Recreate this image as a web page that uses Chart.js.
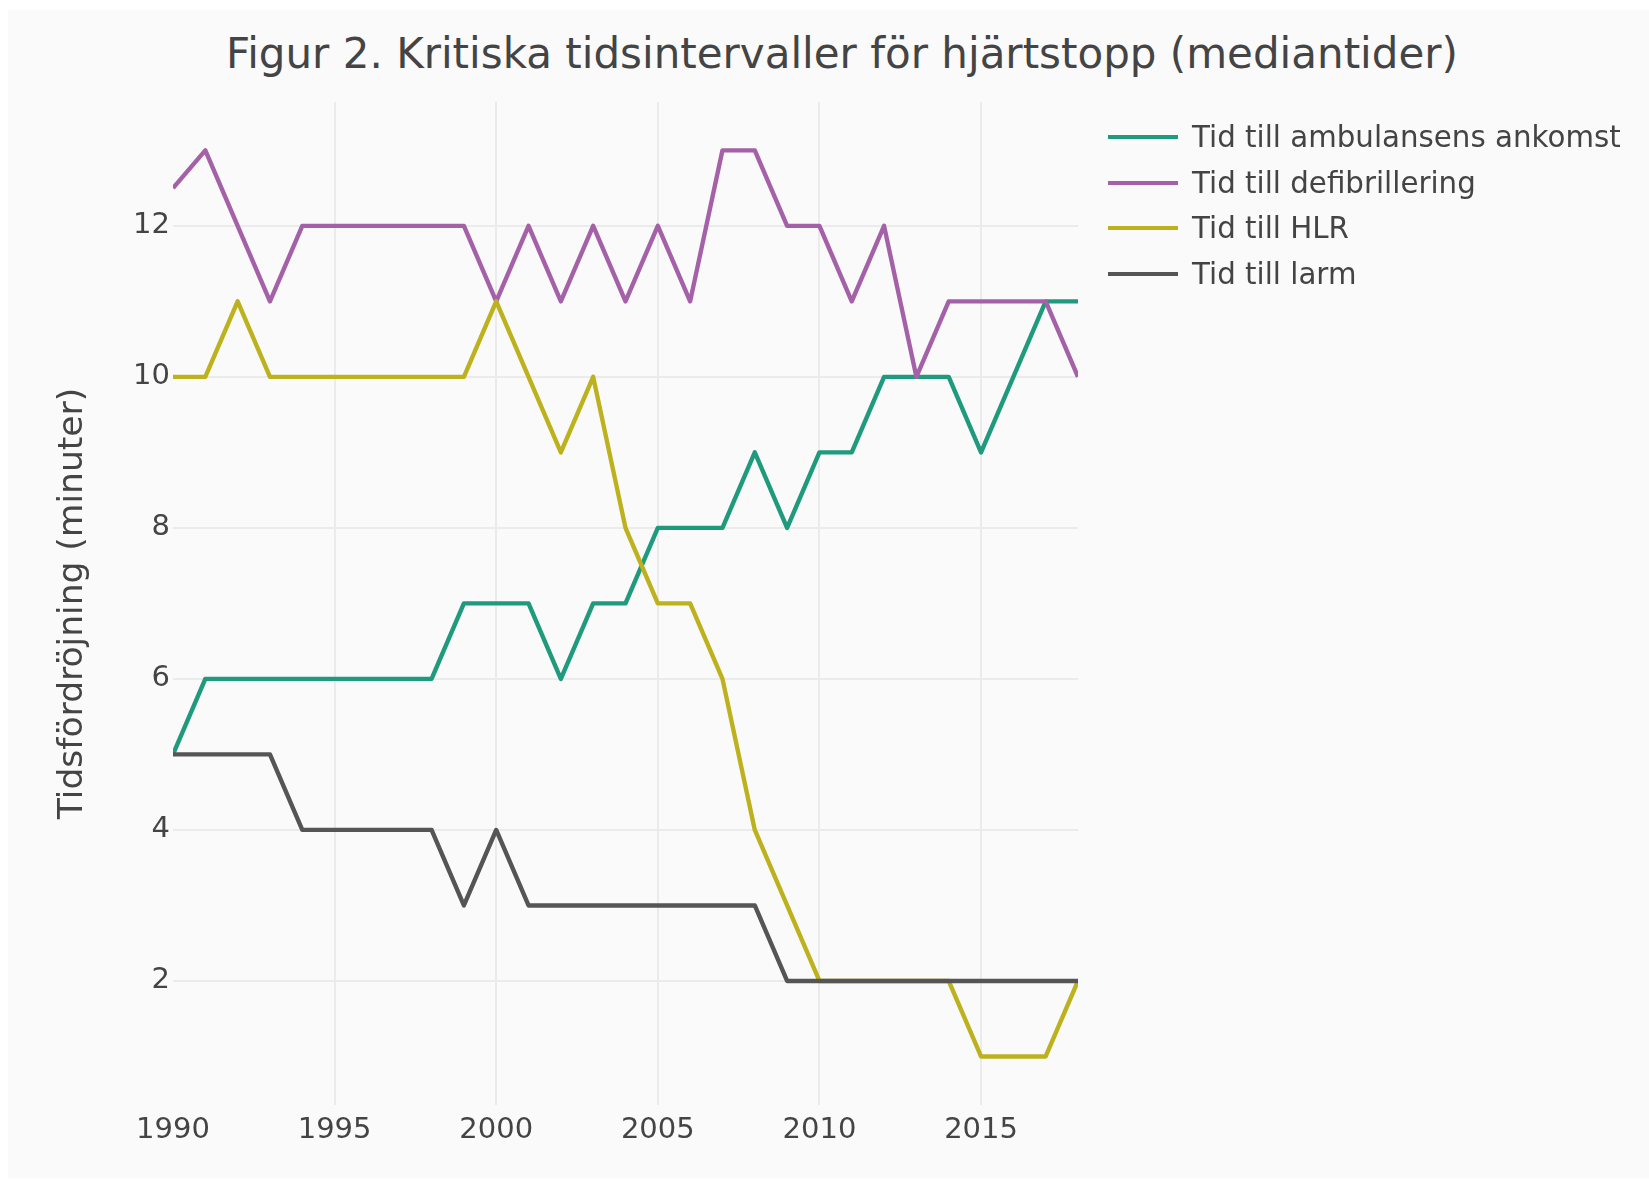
<!DOCTYPE html>
<html>
<head>
<meta charset="utf-8">
<script src="https://cdn.jsdelivr.net/npm/chart.js@4.4.1/dist/chart.umd.min.js"></script>
<style>
  html, body { margin: 0; padding: 0; background: #ffffff; overflow: hidden; }
  body { width: 1649px; height: 1179px; position: relative; font-family: "DejaVu Sans", Verdana, sans-serif; }
  #paper { position: absolute; left: 8px; top: 10px; width: 1641px; height: 1168px; background: #fafafa; }
  #title { position: absolute; left: 0; top: 29px; width: 1684px; text-align: center; font-size: 42px; line-height: 49px; color: #444; white-space: nowrap; }
  #wrap { position: absolute; left: 0; top: 0; width: 1649px; height: 1179px; }
  #legend { position: absolute; left: 0; top: 0; }
  .li { position: absolute; height: 46px; }
  .li .sw { position: absolute; left: 1108px; width: 70px; height: 4px; }
  .li .tx { position: absolute; left: 1192px; font-size: 29.3px; line-height: 34px; color: #444; white-space: nowrap; }
</style>
</head>
<body>
<div id="paper"></div>
<div id="title">Figur 2. Kritiska tidsintervaller för hjärtstopp (mediantider)</div>
<div id="wrap"><canvas id="c" width="1649" height="1179"></canvas></div>
<div id="legend"></div>
<script>
// ---- data ----
const years = [1990, 1991, 1992, 1993, 1994, 1995, 1996, 1997, 1998, 1999,
               2000, 2001, 2002, 2003, 2004, 2005, 2006, 2007, 2008, 2009,
               2010, 2011, 2012, 2013, 2014, 2015, 2016, 2017, 2018];
const ambulans = [5, 6, 6, 6, 6, 6, 6, 6, 6, 7,
                  7, 7, 6, 7, 7, 8, 8, 8, 9, 8,
                  9, 9, 10, 10, 10, 9, 10, 11, 11];
const defibrillering = [12.5, 13, 12, 11, 12, 12, 12, 12, 12, 12,
                        11, 12, 11, 12, 11, 12, 11, 13, 13, 12,
                        12, 11, 12, 10, 11, 11, 11, 11, 10];
const hlr = [10, 10, 11, 10, 10, 10, 10, 10, 10, 10,
             11, 10, 9, 10, 8, 7, 7, 6, 4, 3,
             2, 2, 2, 2, 2, 1, 1, 1, 2];
const larm = [5, 5, 5, 5, 4, 4, 4, 4, 4, 3,
              4, 3, 3, 3, 3, 3, 3, 3, 3, 2,
              2, 2, 2, 2, 2, 2, 2, 2, 2];
const seriesNames = ["Tid till ambulansens ankomst", "Tid till defibrillering", "Tid till HLR", "Tid till larm"];
const xTickValues = [1990, 1995, 2000, 2005, 2010, 2015];
const yTickValues = [2, 4, 6, 8, 10, 12];
const yAxisTitle = "Tidsfördröjning (minuter)";

// ---- styles ----
const colors = ["#1f9a7c", "#a461a8", "#bdb21e", "#555555"];
const FONT = "'DejaVu Sans', Verdana, sans-serif";

const allSeries = [ambulans, defibrillering, hlr, larm];
const datasets = allSeries.map((vals, i) => ({
  label: seriesNames[i],
  data: years.map((y, k) => ({ x: y, y: vals[k] })),
  borderColor: colors[i],
  backgroundColor: colors[i],
  borderWidth: 4.4,
  pointRadius: 0,
  pointHoverRadius: 0,
  tension: 0,
  borderJoinStyle: 'round',
  borderCapStyle: 'butt',
  fill: false,
  order: allSeries.length - i
}));

new Chart(document.getElementById('c'), {
  type: 'line',
  data: { datasets },
  options: {
    responsive: false,
    animation: false,
    events: [],
    layout: { padding: { top: 102, right: 571, bottom: 0, left: 0 } },
    plugins: {
      legend: { display: false },
      title: { display: false },
      tooltip: { enabled: false }
    },
    scales: {
      x: {
        type: 'linear',
        min: 1990,
        max: 2018,
        afterFit: (s) => { s.height = 74; },
        afterBuildTicks: (s) => { s.ticks = xTickValues.map(v => ({ value: v })); },
        ticks: {
          stepSize: 5,
          includeBounds: false,
          padding: 8,
          maxRotation: 0,
          autoSkip: false,
          color: '#444',
          font: { family: FONT, size: 29 },
          callback: (v) => String(v)
        },
        grid: {
          drawTicks: false,
          color: (ctx) => (ctx.tick && ctx.tick.value === 1990) ? 'rgba(0,0,0,0)' : '#ebebeb',
          lineWidth: 2
        },
        border: { display: false }
      },
      y: {
        type: 'linear',
        min: 0.357,
        max: 13.64,
        afterFit: (s) => { s.width = 173; },
        afterBuildTicks: (s) => { s.ticks = yTickValues.map(v => ({ value: v })); },
        ticks: {
          stepSize: 2,
          includeBounds: false,
          padding: 3,
          color: '#444',
          font: { family: FONT, size: 29 },
          callback: (v) => String(v)
        },
        grid: { drawTicks: false, color: '#ebebeb', lineWidth: 2 },
        border: { display: false },
        title: {
          display: true,
          text: yAxisTitle,
          color: '#444',
          font: { family: FONT, size: 34.5 },
          padding: { top: 52, bottom: 0 }
        }
      }
    }
  }
});

// ---- legend (HTML) ----
const legendY = [137, 183, 228, 274];
const leg = document.getElementById('legend');
seriesNames.forEach((name, i) => {
  const item = document.createElement('div');
  item.className = 'li';
  item.style.top = (legendY[i]) + 'px';
  const sw = document.createElement('div');
  sw.className = 'sw';
  sw.style.top = '-2px';
  sw.style.background = colors[i];
  const tx = document.createElement('div');
  tx.className = 'tx';
  tx.style.top = '-17px';
  tx.textContent = name;
  item.appendChild(sw);
  item.appendChild(tx);
  leg.appendChild(item);
});
</script>
</body>
</html>
